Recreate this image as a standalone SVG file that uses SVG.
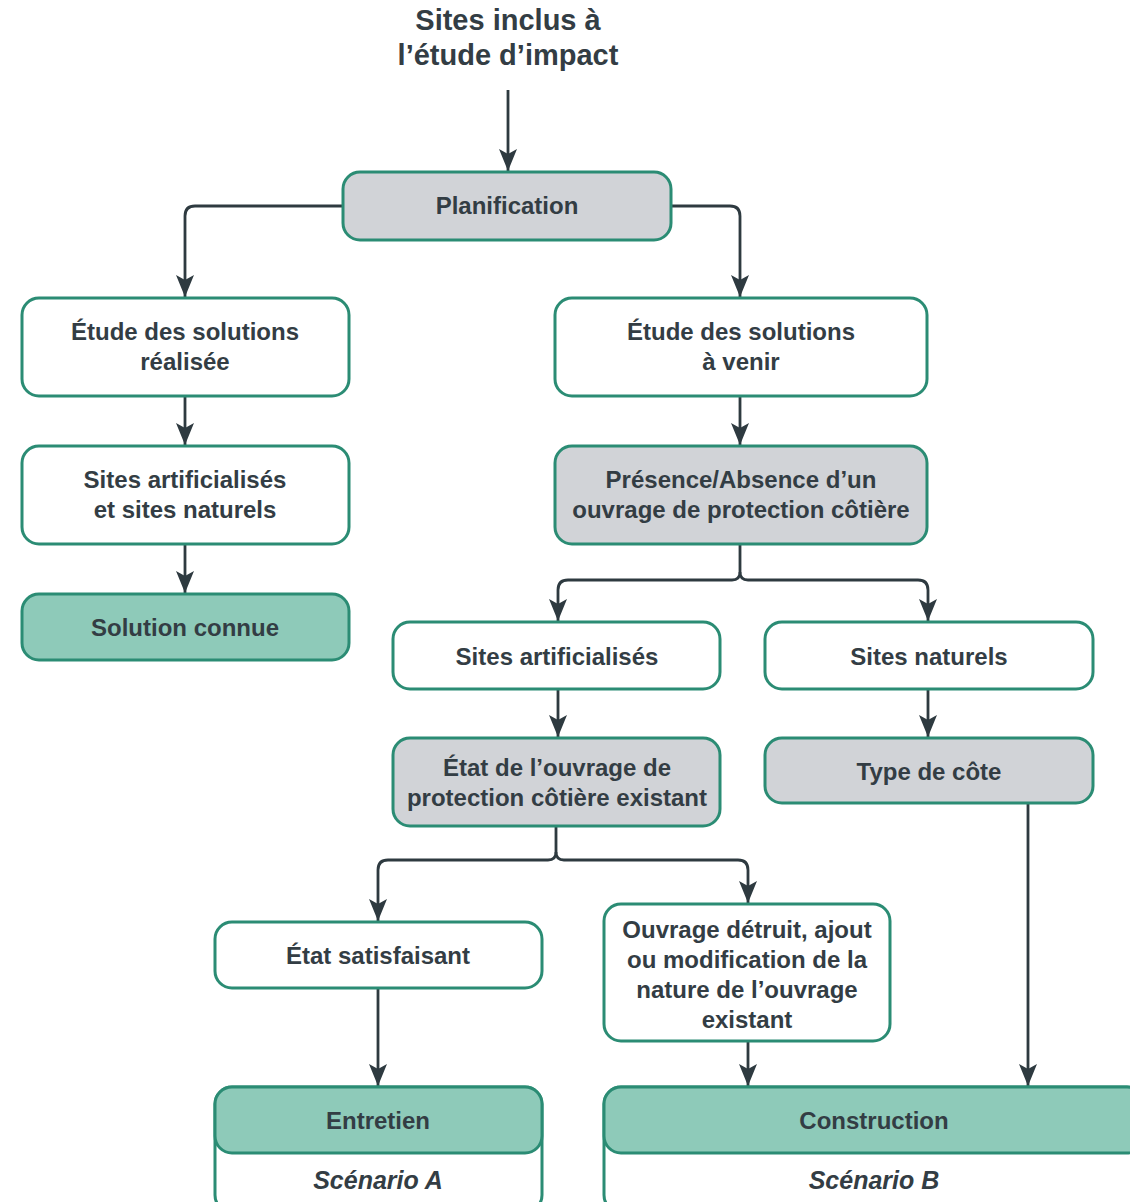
<svg xmlns="http://www.w3.org/2000/svg" width="1130" height="1202" viewBox="0 0 1130 1202">
<defs>
<marker id="ah" markerUnits="userSpaceOnUse" viewBox="0 -9 22 18" refX="22" refY="0" markerWidth="22" markerHeight="18" orient="auto">
<path d="M0,-9 L22,0 L0,9 L5,0 Z" fill="#2e3a40"/>
</marker>
<style>
.box{stroke:#2b8c74;stroke-width:3}
.w{fill:#ffffff}
.g{fill:#d1d3d7}
.t{fill:#8ecab9}
.lbl{font-family:"Liberation Sans",Arial,sans-serif;font-weight:bold;font-size:24px;fill:#333d44;text-anchor:middle}
.sc{font-style:italic;font-size:25px}
.title{font-size:29px}
.c{fill:none;stroke:#2e3a40;stroke-width:2.8;marker-end:url(#ah)}
.cn{fill:none;stroke:#2e3a40;stroke-width:2.8}
</style>
</defs>
<rect width="1130" height="1202" fill="#ffffff"/>

<g id="title">
<text class="lbl title" x="508" y="30">Sites inclus à</text>
<text class="lbl title" x="508" y="65">l’étude d’impact</text>
</g>

<g id="connectors">
<path class="c" d="M508,90 V171"/>
<path class="c" d="M343,206 H195 Q185,206 185,216 V297"/>
<path class="c" d="M671,206 H730 Q740,206 740,216 V297"/>
<path class="c" d="M185,396 V445"/>
<path class="c" d="M185,544 V593"/>
<path class="c" d="M740,396 V445"/>
<path class="cn" d="M740,544 V572"/>
<path class="c" d="M740,572 Q740,580 732,580 H568 Q558,580 558,590 V621"/>
<path class="c" d="M740,572 Q740,580 748,580 H918 Q928,580 928,590 V621"/>
<path class="c" d="M558,689 V737"/>
<path class="c" d="M928,689 V737"/>
<path class="cn" d="M556,826 V852"/>
<path class="c" d="M556,852 Q556,860 548,860 H388 Q378,860 378,870 V921"/>
<path class="c" d="M556,852 Q556,860 564,860 H738 Q748,860 748,870 V903"/>
<path class="c" d="M378,988 V1086"/>
<path class="c" d="M748,1041 V1086"/>
<path class="c" d="M1028,803 V1086"/>
</g>

<g id="planification">
<rect class="box g" x="343" y="172" width="328" height="68" rx="17"/>
<text class="lbl" x="507" y="214">Planification</text>
</g>

<g id="etude-realisee">
<rect class="box w" x="22" y="298" width="327" height="98" rx="17"/>
<text class="lbl" x="185" y="340">Étude des solutions</text>
<text class="lbl" x="185" y="370">réalisée</text>
</g>

<g id="etude-a-venir">
<rect class="box w" x="555" y="298" width="372" height="98" rx="17"/>
<text class="lbl" x="741" y="340">Étude des solutions</text>
<text class="lbl" x="741" y="370">à venir</text>
</g>

<g id="sites-art-nat">
<rect class="box w" x="22" y="446" width="327" height="98" rx="17"/>
<text class="lbl" x="185" y="488">Sites artificialisés</text>
<text class="lbl" x="185" y="518">et sites naturels</text>
</g>

<g id="solution-connue">
<rect class="box t" x="22" y="594" width="327" height="66" rx="17"/>
<text class="lbl" x="185" y="636">Solution connue</text>
</g>

<g id="presence-absence">
<rect class="box g" x="555" y="446" width="372" height="98" rx="17"/>
<text class="lbl" x="741" y="488">Présence/Absence d’un</text>
<text class="lbl" x="741" y="518">ouvrage de protection côtière</text>
</g>

<g id="sites-artificialises">
<rect class="box w" x="393" y="622" width="327" height="67" rx="17"/>
<text class="lbl" x="557" y="665">Sites artificialisés</text>
</g>

<g id="sites-naturels">
<rect class="box w" x="765" y="622" width="328" height="67" rx="17"/>
<text class="lbl" x="929" y="665">Sites naturels</text>
</g>

<g id="etat-ouvrage">
<rect class="box g" x="393" y="738" width="327" height="88" rx="17"/>
<text class="lbl" x="557" y="776">État de l’ouvrage de</text>
<text class="lbl" x="557" y="806">protection côtière existant</text>
</g>

<g id="type-cote">
<rect class="box g" x="765" y="738" width="328" height="65" rx="17"/>
<text class="lbl" x="929" y="780">Type de côte</text>
</g>

<g id="etat-satisfaisant">
<rect class="box w" x="215" y="922" width="327" height="66" rx="17"/>
<text class="lbl" x="378" y="964">État satisfaisant</text>
</g>

<g id="ouvrage-detruit">
<rect class="box w" x="604" y="904" width="286" height="137" rx="17"/>
<text class="lbl" x="747" y="938">Ouvrage détruit, ajout</text>
<text class="lbl" x="747" y="968">ou modification de la</text>
<text class="lbl" x="747" y="998">nature de l’ouvrage</text>
<text class="lbl" x="747" y="1028">existant</text>
</g>

<g id="entretien">
<rect class="box w" x="215" y="1087" width="327" height="125" rx="17"/>
<rect class="box t" x="215" y="1087" width="327" height="66" rx="17"/>
<text class="lbl" x="378" y="1129">Entretien</text>
<text class="lbl sc" x="378" y="1189">Scénario A</text>
</g>

<g id="construction">
<rect class="box w" x="604" y="1087" width="540" height="125" rx="17"/>
<rect class="box t" x="604" y="1087" width="540" height="66" rx="17"/>
<text class="lbl" x="874" y="1129">Construction</text>
<text class="lbl sc" x="874" y="1189">Scénario B</text>
</g>
</svg>
